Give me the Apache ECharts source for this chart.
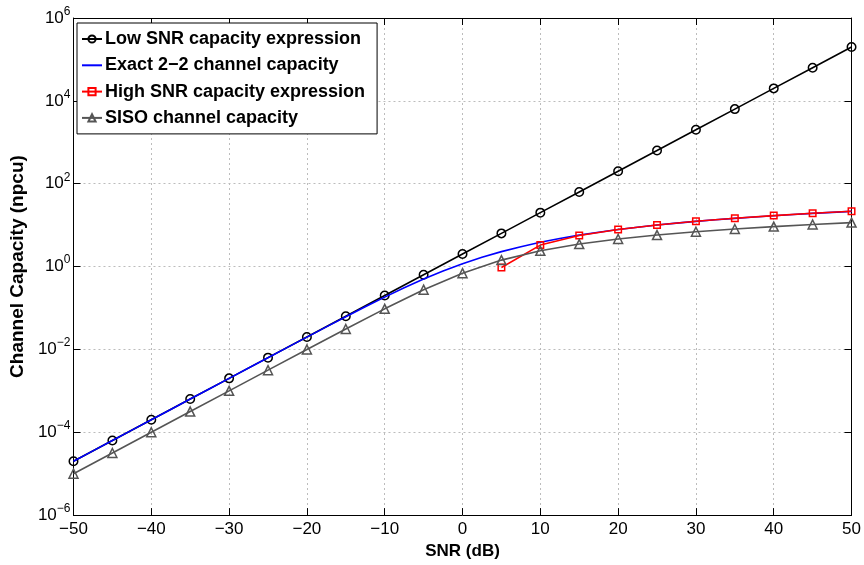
<!DOCTYPE html>
<html>
<head>
<meta charset="utf-8">
<script src="https://cdn.jsdelivr.net/npm/echarts@6/dist/echarts.min.js"></script>
<style>
html,body{margin:0;padding:0;background:#fff;}
#chart{width:864px;height:565px;}
</style>
</head>
<body>
<div id="chart"></div>
<script>
// ---- data ----
const markerSNR = [-50,-45,-40,-35,-30,-25,-20,-15,-10,-5,0,5,10,15,20,25,30,35,40,45,50];
const lowSNR = [2e-5,6.32e-5,2e-4,6.32e-4,2e-3,6.32e-3,0.02,0.0632,0.2,0.632,2,6.32,20,63.2,200,632,2000,6320,2e4,6.32e4,2e5];
const sisoCap = [1e-5,3.16e-5,1e-4,3.16e-4,9.99e-4,3.16e-3,9.95e-3,0.0311,0.0953,0.276,0.693,1.43,2.40,3.49,4.62,5.76,6.91,8.06,9.21,10.36,11.51];
const highSNRx = [5,10,15,20,25,30,35,40,45,50];
const highSNR = [0.95,3.3,5.6,7.85,10.1,12.4,14.7,17.0,19.3,21.6];
const exactSNR = [-50,-47.5,-45,-42.5,-40,-37.5,-35,-32.5,-30,-27.5,-25,-22.5,-20,-17.5,-15,-12.5,-10,-7.5,-5,-2.5,0,2.5,5,7.5,10,12.5,15,17.5,20,22.5,25,27.5,30,32.5,35,37.5,40,42.5,45,47.5,50];
const exactCap = [2.0e-5,3.556e-5,6.324e-5,1.1246e-4,1.9998e-4,3.555e-4,6.322e-4,1.124e-3,1.998e-3,3.55e-3,6.304e-3,1.1183e-2,0.019804,0.034953,0.06135,0.1067,0.18283,0.3065,0.4982,0.7798,1.168,1.6717,2.2916,3.0204,3.8465,4.7552,5.7311,6.7592,7.8263,8.9212,10.036,11.163,12.299,13.441,14.587,15.734,16.883,18.033,19.184,20.334,21.486];
const legendNames = ['Low SNR capacity expression','Exact 2\u22122 channel capacity','High SNR capacity expression','SISO channel capacity'];
const xTitle = 'SNR (dB)';
const yTitle = 'Channel Capacity (npcu)';

const zip = (xs, ys) => xs.map((x, i) => [x, ys[i]]);
const FONT = 'Liberation Sans';
const gridLine = {show: true, lineStyle: {color: '#bcbcbc', type: [2, 3], width: 1}};
const axLine = {show: true, onZero: false, lineStyle: {color: '#000', width: 1}};
const tick = {show: true, inside: true, length: 7, lineStyle: {color: '#000', width: 1}};

const chart = echarts.init(document.getElementById('chart'), null, {renderer: 'canvas'});
chart.setOption({
  animation: false,
  backgroundColor: '#fff',
  textStyle: {fontFamily: FONT},
  grid: {left: 70, right: 12, top: 18, bottom: 45, containLabel: false},
  legend: {
    orient: 'vertical', left: 77, top: 23,
    data: [
      {name: legendNames[0]},
      {name: legendNames[1], itemStyle: {color: 'rgba(0,0,0,0)', borderWidth: 0, opacity: 0}},
      {name: legendNames[2]},
      {name: legendNames[3]}
    ],
    itemWidth: 20, itemHeight: 9, itemGap: 8.3, padding: [7, 12, 7, 4],
    borderColor: '#000', borderWidth: 1, backgroundColor: '#fff',
    textStyle: {fontFamily: FONT, fontWeight: 'bold', fontSize: 18, color: '#000', lineHeight: 18, padding: [0, 0, 0, -2]}
  },
  xAxis: [
    {type: 'value', min: -50, max: 50, interval: 10, position: 'bottom',
     name: xTitle, nameLocation: 'middle', nameGap: 21,
     nameTextStyle: {fontFamily: FONT, fontWeight: 'bold', fontSize: 17, color: '#000'},
     axisLine: axLine, axisTick: tick, splitLine: gridLine,
     axisLabel: {fontFamily: FONT, fontSize: 17, color: '#000', margin: 6,
       formatter: v => String(v).replace('-', '\u2212')}},
    {type: 'value', min: -50, max: 50, interval: 10, position: 'top',
     axisLine: axLine, axisTick: tick, splitLine: {show: false}, axisLabel: {show: false}}
  ],
  yAxis: [
    {type: 'log', logBase: 10, min: 1e-6, max: 1e6, interval: 2, position: 'left',
     name: yTitle, nameLocation: 'middle', nameGap: 35,
     nameTextStyle: {fontFamily: FONT, fontWeight: 'bold', fontSize: 19, color: '#000'},
     axisLine: axLine, axisTick: tick, splitLine: gridLine, minorTick: {show: false},
     axisLabel: {margin: 3, color: '#000',
       formatter: v => { const e = Math.round(Math.log10(v)); return '{b|10}{s|' + (e < 0 ? '\u2212' : '') + Math.abs(e) + '}'; },
       rich: {b: {fontFamily: FONT, fontSize: 17, color: '#000'},
              s: {fontFamily: FONT, fontSize: 12, color: '#000', padding: [0, 0, 13, 0]}}}},
    {type: 'log', logBase: 10, min: 1e-6, max: 1e6, interval: 2, position: 'right',
     axisLine: axLine, axisTick: tick, splitLine: {show: false}, axisLabel: {show: false}}
  ],
  series: [
    {name: legendNames[0], type: 'line', data: zip(markerSNR, lowSNR),
     symbol: 'circle', symbolSize: 8.5,
     itemStyle: {color: 'rgba(255,255,255,0)', borderColor: '#000', borderWidth: 1.5},
     lineStyle: {color: '#000', width: 1.6}, z: 2},
    {name: legendNames[1], type: 'line', data: zip(exactSNR, exactCap),
     symbol: 'none', itemStyle: {color: '#0000ff'},
     lineStyle: {color: '#0000ff', width: 1.6}, z: 3},
    {name: legendNames[2], type: 'line', data: zip(highSNRx, highSNR),
     symbol: 'rect', symbolSize: 6.5,
     itemStyle: {color: 'rgba(255,255,255,0)', borderColor: '#ff0000', borderWidth: 1.5},
     lineStyle: {color: '#ff0000', width: 1.6}, z: 4},
    {name: legendNames[3], type: 'line', data: zip(markerSNR, sisoCap),
     symbol: 'triangle', symbolSize: 9,
     itemStyle: {color: 'rgba(255,255,255,0)', borderColor: '#555555', borderWidth: 1.5},
     lineStyle: {color: '#555555', width: 1.6}, z: 5}
  ]
});
</script>
</body>
</html>
